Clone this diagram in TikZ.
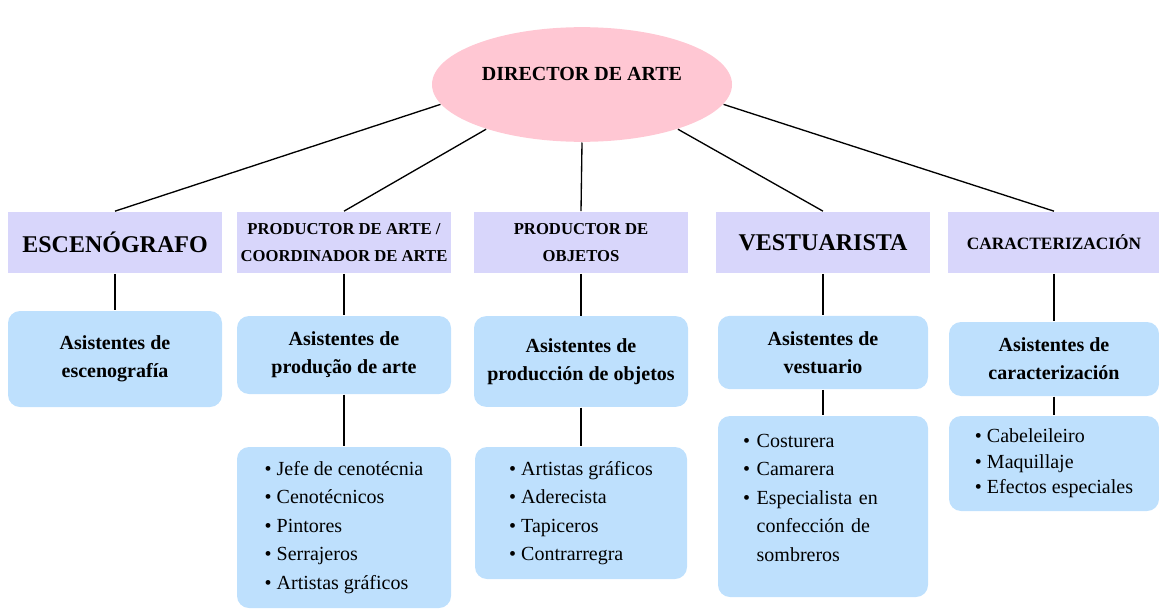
\documentclass[tikz,border=0pt]{standalone}
\usepackage{fontspec}
\setmainfont{Liberation Serif}
\usepackage{tikz}
\usetikzlibrary{shapes}
\usetikzlibrary{positioning}
\usepackage{xcolor}
\definecolor{lila}{RGB}{216,214,251}
\definecolor{celeste}{RGB}{190,224,253}
\definecolor{rosa}{RGB}{255,199,211}

\tikzset{
  cargo/.style={fill=lila, inner sep=0pt, minimum width=160.5pt, minimum height=46pt, align=center},
  asist/.style={fill=celeste, rounded corners=9pt, inner sep=0pt, minimum width=160.5pt, align=center, font=\bfseries\fontsize{15}{21}\selectfont},
  lista/.style={fill=celeste, rounded corners=9pt, inner sep=0pt, minimum width=160.5pt, align=left, font=\fontsize{15}{21.4}\selectfont},
}

\begin{document}
\begin{tikzpicture}[x=0.75pt,y=-0.75pt,line width=1pt]
\useasboundingbox (0,0) rectangle (1159,610);
\node[ellipse, fill=rosa, minimum width=225pt, minimum height=86pt, inner sep=0pt, text height=10pt, text depth=16.5pt, font=\bfseries\fontsize{15}{18}\selectfont] (dir) at (582,84.5) {DIRECTOR DE ARTE};
% cargos
\node[cargo, font=\bfseries\fontsize{18}{22}\selectfont] (esc) at (115,242.5) {ESCENÓGRAFO};
\node[cargo, font=\bfseries\fontsize{12.5}{20}\selectfont] (pa) at (344,242.5) {PRODUCTOR DE ARTE /\\COORDINADOR DE ARTE};
\node[cargo, font=\bfseries\fontsize{12.5}{20}\selectfont] (po) at (581,242.5) {PRODUCTOR DE\\OBJETOS};
\node[cargo, font=\bfseries\fontsize{18}{22}\selectfont] (ves) at (823,242.5) {VESTUARISTA};
\node[cargo, font=\bfseries\fontsize{13}{18}\selectfont, minimum width=159pt] (car) at (1054,242.5) {CARACTERIZACIÓN};
% asistentes
\node[asist, minimum height=72pt] (escA) at (115,359) {Asistentes de\\escenografía};
\node[asist, minimum height=58.5pt] (paA) at (344,355) {Asistentes de\\produção de arte};
\node[asist, minimum height=68pt] (poA) at (581,361.5) {Asistentes de\\producción de objetos};
\node[asist, minimum height=55pt, minimum width=157.5pt] (vesA) at (823,352.5) {Asistentes de\\vestuario};
\node[asist, minimum height=55.5pt, minimum width=157.5pt] (carA) at (1054,359) {Asistentes de\\caracterización};
% listas
\node[lista, minimum height=120.75pt] (paL) at (344,527.5) {\textbullet\ Jefe de cenotécnia\\\textbullet\ Cenotécnicos\\\textbullet\ Pintores\\\textbullet\ Serrajeros\\\textbullet\ Artistas gráficos};
\node[lista, minimum height=99pt, minimum width=159pt] (poL) at (581,513) {\textbullet\ Artistas gráficos\\\textbullet\ Aderecista\\\textbullet\ Tapiceros\\\textbullet\ Contrarregra};
\node[lista, minimum height=135.75pt, minimum width=157.5pt, text width=120pt] (vesL) at (823,506.5) {\textbullet\ Costurera\\\textbullet\ Camarera\\\textbullet\ Especialista en\\\phantom{\textbullet\ }confección de\\\phantom{\textbullet\ }sombreros\\[-8pt]\mbox{}};
\node[lista, minimum height=71.25pt, minimum width=157.5pt, font=\fontsize{15}{19}\selectfont] (carL) at (1054,463.5) {\textbullet\ Cabeleileiro\\\textbullet\ Maquillaje\\\textbullet\ Efectos especiales};
% lineas
\draw (dir.188) -- (esc.north);
\draw (dir.205) -- (pa.north);
\draw (dir.south) -- (po.north);
\draw (dir.335) -- (ves.north);
\draw (dir.352) -- (car.north);
\foreach \a/\b in {esc/escA, pa/paA, po/poA, ves/vesA, car/carA, paA/paL, poA/poL, vesA/vesL, carA/carL}
  \draw (\a.south) -- (\b.north);
\end{tikzpicture}
\end{document}
